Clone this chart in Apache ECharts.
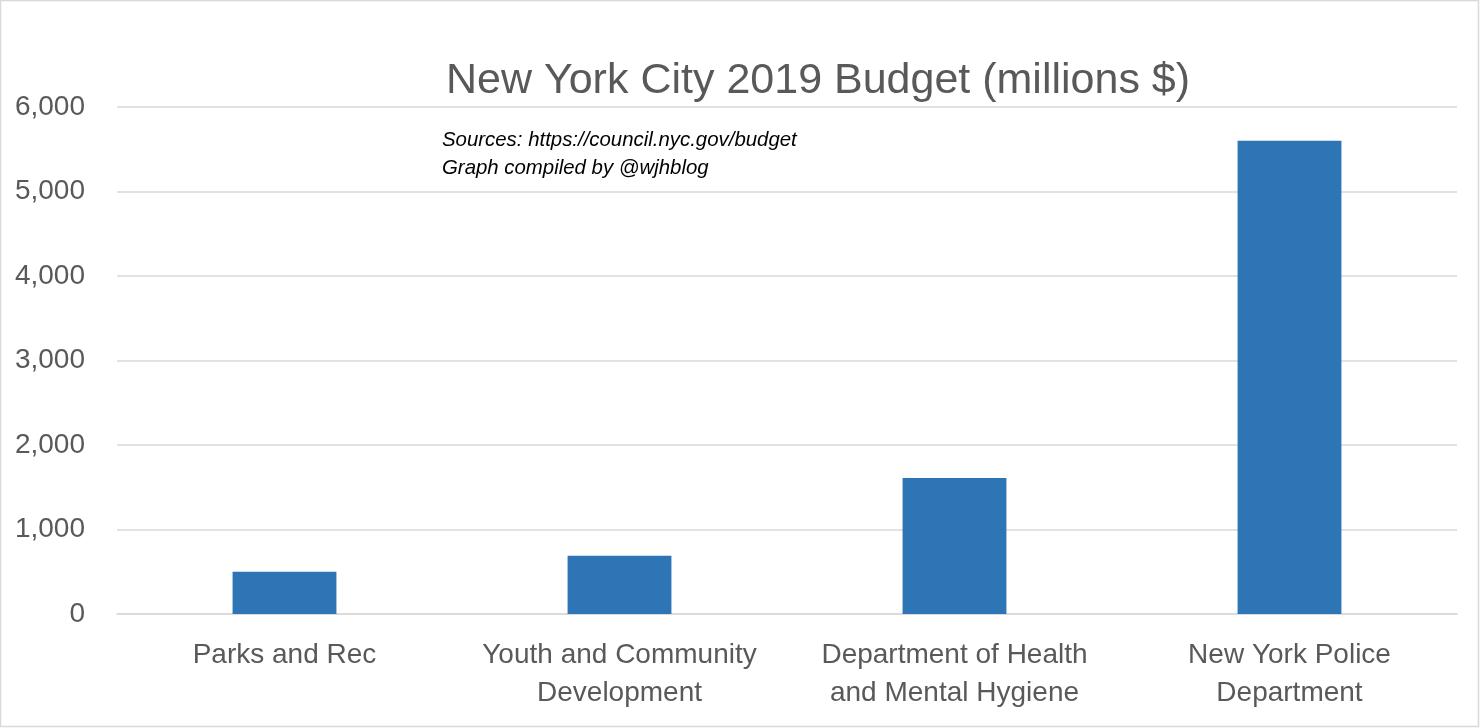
<!DOCTYPE html>
<html>
<head>
<meta charset="utf-8">
<script src="https://cdn.jsdelivr.net/npm/echarts@6/dist/echarts.min.js"></script>
<style>
    html, body { margin: 0; padding: 0; background: #fff; }
    #chart { width: 1480px; height: 728px; }
</style>
</head>
<body>
<div id="chart"></div>
<script>
var categories = ['Parks and Rec', 'Youth and Community\nDevelopment', 'Department of Health\nand Mental Hygiene', 'New York Police\nDepartment'];
var budget = [500, 690, 1610, 5600];
var yTicks = [0, 1000, 2000, 3000, 4000, 5000, 6000];

var FONT = "'Liberation Sans', Arial, sans-serif";

var myChart = echarts.init(document.getElementById('chart'));

var option = {
    animation: false,
    backgroundColor: '#fff',
    title: {
        text: 'New York City 2019 Budget (millions $)',
        left: 441,
        top: 55,
        textStyle: {
            fontFamily: FONT,
            fontSize: 43,
            fontWeight: 'normal',
            color: '#595959'
        }
    },
    graphic: [
        {
            type: 'rect',
            shape: { x: 0.5, y: 0.5, width: 1478, height: 726 },
            style: { fill: 'none', stroke: '#d9d9d9', lineWidth: 1.5 },
            silent: true
        },
        {
            type: 'text',
            left: 442,
            top: 126,
            style: {
                text: 'Sources: https://council.nyc.gov/budget\nGraph compiled by @wjhblog',
                fontFamily: FONT,
                fontStyle: 'italic',
                fontSize: 20.4,
                lineHeight: 28,
                fill: '#000'
            }
        }
    ],
    grid: {
        left: 117,
        right: 23,
        top: 107,
        bottom: 114
    },
    xAxis: {
        type: 'category',
        data: categories,
        axisTick: { show: false },
        axisLine: { lineStyle: { color: '#d9d9d9', width: 1.5 } },
        axisLabel: {
            interval: 0,
            margin: 22,
            fontFamily: FONT,
            fontSize: 28,
            lineHeight: 38,
            color: '#595959',
            verticalAlign: 'top'
        }
    },
    yAxis: {
        type: 'value',
        min: yTicks[0],
        max: yTicks[yTicks.length - 1],
        interval: 1000,
        axisLine: { show: false },
        axisTick: { show: false },
        splitLine: { lineStyle: { color: '#d9d9d9', width: 1.5 } },
        axisLabel: {
            margin: 32,
            fontFamily: FONT,
            fontSize: 28,
            color: '#595959',
            formatter: function (v) {
                return v.toLocaleString('en-US');
            }
        }
    },
    series: [
        {
            name: 'Budget',
            type: 'bar',
            barWidth: '31%',
            data: budget,
            itemStyle: { color: '#2e75b6' }
        }
    ]
};

myChart.setOption(option, true);
</script>
</body>
</html>
